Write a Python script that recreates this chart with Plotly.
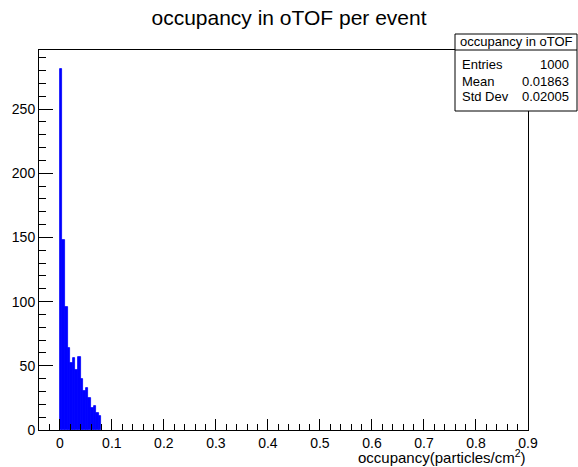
import plotly.graph_objects as go

# ---- data ----
bin_start = 0.0
bin_width = 0.005
counts = [281, 148, 96, 64, 52, 56, 47, 57, 40, 30, 33, 25, 17, 19, 13, 11]

x_range = [-0.04, 0.9]
y_range = [0, 296]
x_ticks = [0, 0.1, 0.2, 0.3, 0.4, 0.5, 0.6, 0.7, 0.8, 0.9]
x_ticklabels = ["0", "0.1", "0.2", "0.3", "0.4", "0.5", "0.6", "0.7", "0.8", "0.9"]
y_ticks = [0, 50, 100, 150, 200, 250]

title_text = "occupancy in oTOF per event"
xtitle_text = "occupancy(particles/cm<sup>2</sup>)"
stats_name = "occupancy in oTOF"
stats_labels = ["Entries", "Mean", "Std Dev"]
stats_values = ["1000", "0.01863", "0.02005"]

centers = [bin_start + (i + 0.5) * bin_width for i in range(len(counts))]

FONT = "Liberation Sans, Arial, Helvetica, sans-serif"

fig = go.Figure()
fig.add_trace(go.Bar(
    x=centers, y=counts, width=bin_width,
    marker=dict(color="#0000ff", line=dict(width=0.8, color="#0000ff")),
    showlegend=False,
))

W, H = 578, 467
L, R, T, B = 39, 50, 50, 37
pw, ph = W - L - R, H - T - B

def px_x(px):
    return (px - L) / pw

def px_y(py):
    return (H - B - py) / ph

fig.update_layout(
    width=W, height=H, autosize=False,
    margin=dict(l=L, r=R, t=T, b=B),
    paper_bgcolor="white", plot_bgcolor="white",
    bargap=0,
    font=dict(family=FONT, color="black", size=14),
    title=dict(text=title_text, x=0.5, xref="container", xanchor="center",
               y=1 - 18 / H, yref="container", yanchor="middle",
               font=dict(size=21, family=FONT, color="black")),
)

fig.update_xaxes(
    range=x_range, tickvals=x_ticks, ticktext=x_ticklabels,
    ticks="inside", ticklen=11, tickcolor="black", tickwidth=1,
    minor=dict(dtick=0.02, tick0=0, ticks="inside", ticklen=6, tickcolor="black"),
    showline=True, linecolor="black", linewidth=1, mirror=True,
    showgrid=False, zeroline=False,
    tickfont=dict(size=14, family=FONT, color="black"),
)
fig.update_yaxes(
    range=y_range, tickvals=y_ticks,
    ticks="inside", ticklen=14, tickcolor="black", tickwidth=1,
    minor=dict(dtick=10, tick0=0, ticks="inside", ticklen=7, tickcolor="black"),
    showline=True, linecolor="black", linewidth=1, mirror=True,
    showgrid=False, zeroline=False,
    tickfont=dict(size=14, family=FONT, color="black"),
)

# x-axis title (ROOT style, right aligned)
fig.add_annotation(text=xtitle_text, xref="paper", yref="paper",
                   x=1.0, y=px_y(457), xanchor="right", yanchor="middle",
                   showarrow=False, font=dict(size=15, family=FONT, color="black"))

# stats box
bx0, bx1 = px_x(455), px_x(577)
by0, by1 = px_y(111), px_y(34)
fig.add_shape(type="rect", xref="paper", yref="paper",
              x0=bx0, x1=bx1, y0=by0, y1=by1,
              line=dict(color="black", width=1), fillcolor="white", layer="above")
fig.add_shape(type="line", xref="paper", yref="paper",
              x0=bx0, x1=bx1, y0=px_y(50), y1=px_y(50),
              line=dict(color="black", width=1), layer="above")
fig.add_annotation(text=stats_name, xref="paper", yref="paper",
                   x=px_x(516), y=px_y(42), xanchor="center", yanchor="middle",
                   showarrow=False, font=dict(size=13, family=FONT, color="black"))
row_y = [64, 81, 96]
for lab, val, ry in zip(stats_labels, stats_values, row_y):
    fig.add_annotation(text=lab, xref="paper", yref="paper",
                       x=px_x(460), y=px_y(ry), xanchor="left", yanchor="middle",
                       showarrow=False, font=dict(size=13, family=FONT, color="black"))
    fig.add_annotation(text=val, xref="paper", yref="paper",
                       x=px_x(571), y=px_y(ry), xanchor="right", yanchor="middle",
                       showarrow=False, font=dict(size=13, family=FONT, color="black"))

fig.write_html("out.html")
